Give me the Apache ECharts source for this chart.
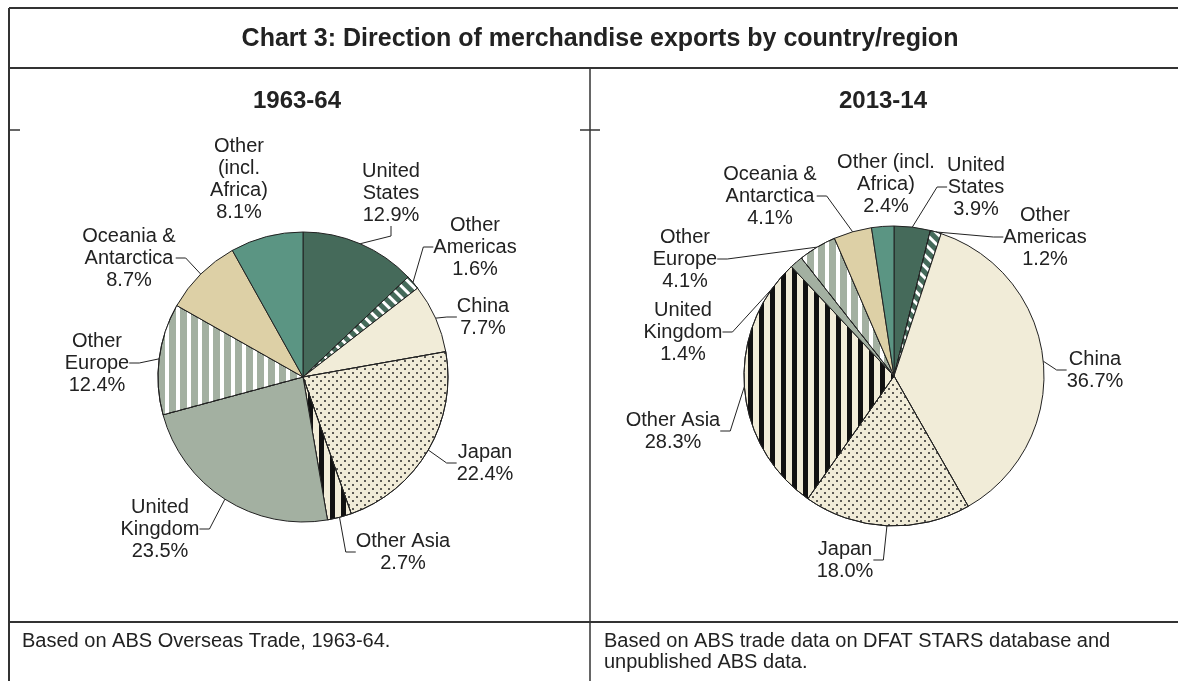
<!DOCTYPE html>
<html>
<head>
<meta charset="utf-8">
<script src="https://cdn.jsdelivr.net/npm/echarts@6/dist/echarts.min.js"></script>
<style>
  html, body {margin: 0; padding: 0; background: #fff;}
  #chart {width: 1178px; height: 681px;}
</style>
</head>
<body>
<div id="chart"></div>
<script>
// data, clockwise from 12 o'clock
const categories = ['United States', 'Other Americas', 'China', 'Japan', 'Other Asia',
  'United Kingdom', 'Other Europe', 'Oceania & Antarctica', 'Other (incl. Africa)']
const share1963 = [12.9, 1.6, 7.7, 22.4, 2.7, 23.5, 12.4, 8.7, 8.1]
const share2013 = [3.9, 1.2, 36.7, 18.0, 28.3, 1.4, 4.1, 4.1, 2.4]

// how the names wrap in each panel
const names1963 = ['United\nStates', 'Other\nAmericas', 'China', 'Japan', 'Other Asia',
  'United\nKingdom', 'Other\nEurope', 'Oceania &\nAntarctica', 'Other\n(incl.\nAfrica)']
const names2013 = ['United\nStates', 'Other\nAmericas', 'China', 'Japan', 'Other Asia',
  'United\nKingdom', 'Other\nEurope', 'Oceania &\nAntarctica', 'Other (incl.\nAfrica)']

// label block centres (layout only)
const labelPos1963 = [[391, 193], [475, 247], [483, 317], [485, 463], [403, 552],
  [160, 529], [97, 363], [129, 258], [239, 179]]
const labelPos2013 = [[976, 187], [1045, 237], [1095, 370], [845, 560], [673, 431],
  [683, 332], [685, 259], [770, 196], [886, 184]]

const sliceColors = ['#456a5a', '#456a5a', '#f1ecd8', '#f1ecd8', '#f1ecd8',
  '#a3b0a1', '#a3b0a1', '#ddd0a6', '#5b9583']

const sliceDecals = [
  null,
  {symbol: 'rect', symbolSize: 1, color: '#ffffff', dashArrayX: [3, 5], dashArrayY: [1, 0], rotation: -Math.PI / 4},
  null,
  {symbol: 'circle', symbolSize: 1, color: '#2a2a2a', dashArrayX: [[2, 6], [0, 4, 2, 2]], dashArrayY: [2, 2]},
  {symbol: 'rect', symbolSize: 1, color: '#111111', dashArrayX: [5, 6], dashArrayY: [1, 0]},
  null,
  {symbol: 'rect', symbolSize: 1, color: '#ffffff', dashArrayX: [4, 7], dashArrayY: [1, 0]},
  null,
  null
]

const FONT = '"Liberation Sans", Arial, sans-serif'
const textColor = '#222'
const frameColor = '#333'

const makePie = (values, names, positions, center, radius) => ({
  type: 'pie',
  center,
  radius,
  startAngle: 90,
  clockwise: true,
  avoidLabelOverlap: false,
  silent: true,
  data: values.map((v, i) => {
    const item = {
      name: categories[i],
      value: v,
      itemStyle: {color: sliceColors[i]}
    }
    if (sliceDecals[i]) item.itemStyle.decal = sliceDecals[i]
    if (i === categories.length - 1) item.labelLine = {show: false}
    return item
  }),
  itemStyle: {borderColor: '#222', borderWidth: 1},
  label: {
    show: true,
    position: 'outside',
    formatter: (p) => names[p.dataIndex] + '\n' + p.value.toFixed(1) + '%',
    color: textColor,
    fontFamily: FONT,
    fontSize: 20,
    lineHeight: 22,
    align: 'center'
  },
  labelLine: {show: true, length: 10, length2: 10, lineStyle: {color: '#222', width: 1}},
  labelLayout: (p) => ({
    x: positions[p.dataIndex][0],
    y: positions[p.dataIndex][1],
    align: 'center',
    verticalAlign: 'middle'
  })
})

const line = (x1, y1, x2, y2, w) => ({
  type: 'line',
  shape: {x1, y1, x2, y2},
  style: {stroke: frameColor, lineWidth: w || 1.5},
  silent: true
})

const text = (t, x, y, size, weight, align) => ({
  type: 'text',
  x, y,
  style: {
    text: t,
    fill: textColor,
    font: `${weight || 'normal'} ${size}px ${FONT}`,
    align: align || 'center',
    verticalAlign: 'middle',
    lineHeight: 21
  },
  silent: true
})

const chart = echarts.init(document.getElementById('chart'))
chart.setOption({
  backgroundColor: '#fff',
  animation: false,
  graphic: [
    line(9, 8, 1178, 8, 2),
    line(9, 8, 9, 681, 2),
    line(9, 68, 1178, 68, 2),
    line(590, 68, 590, 681, 1.5),
    line(9, 622, 1178, 622, 2),
    line(9, 130, 20, 130, 1.5),
    line(580, 130, 600, 130, 1.5),
    text('Chart 3: Direction of merchandise exports by country/region', 600, 39, 25, 'bold'),
    text('1963-64', 297, 101, 24, 'bold'),
    text('2013-14', 883, 101, 24, 'bold'),
    text('Based on ABS Overseas Trade, 1963-64.', 22, 641, 20, 'normal', 'left'),
    text('Based on ABS trade data on DFAT STARS database and\nunpublished ABS data.', 604, 652, 20, 'normal', 'left')
  ],
  series: [
    makePie(share1963, names1963, labelPos1963, [303, 377], 145),
    makePie(share2013, names2013, labelPos2013, [894, 376], 150)
  ]
})
</script>
</body>
</html>
